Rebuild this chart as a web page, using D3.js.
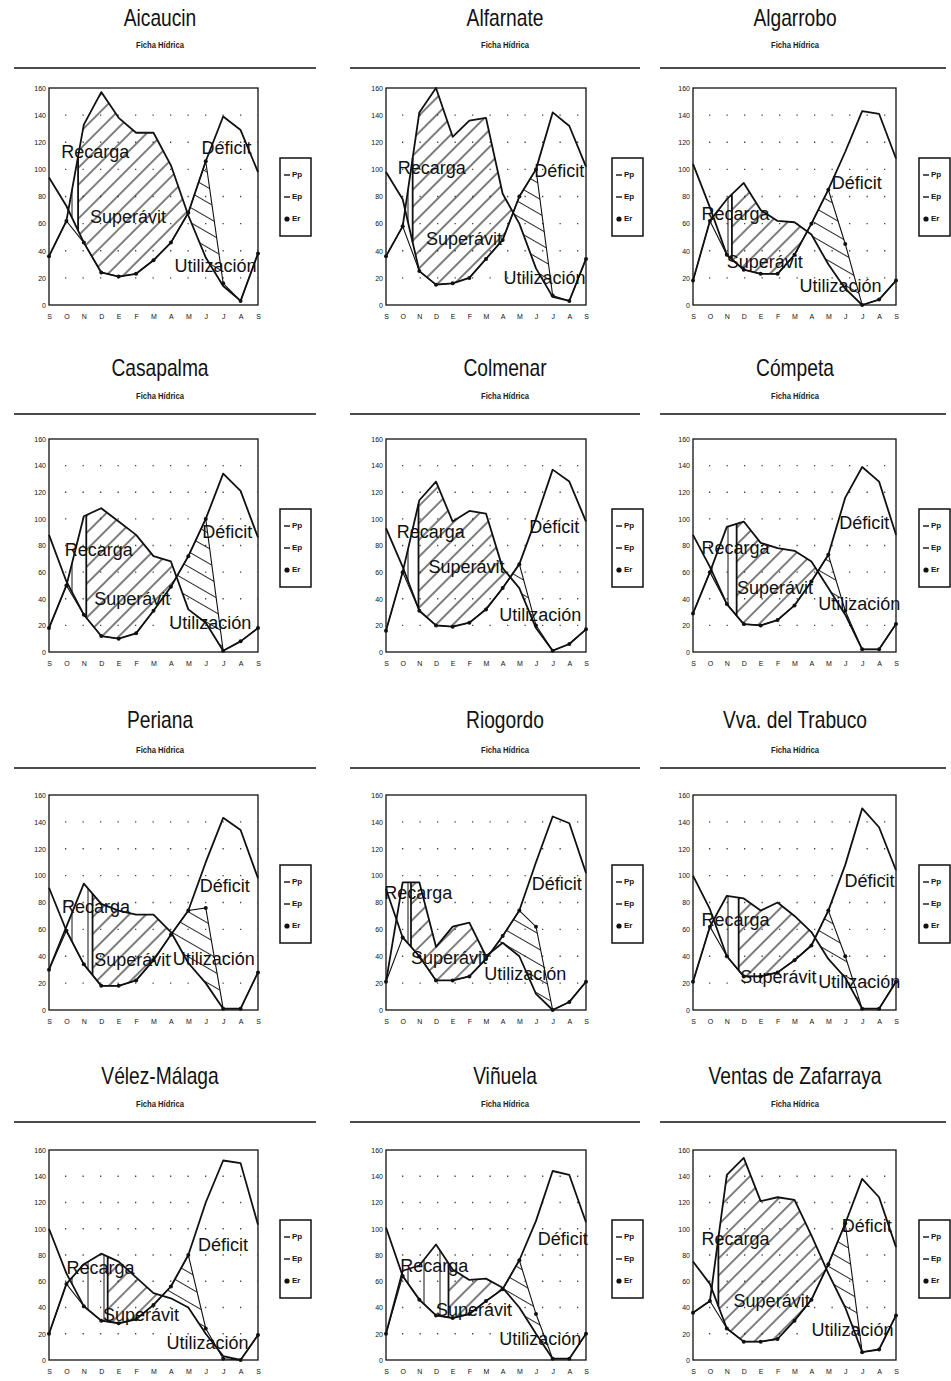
<!DOCTYPE html>
<html>
<head>
<meta charset="utf-8">
<script src="https://cdn.jsdelivr.net/npm/d3@7"></script>
<style>
  body { margin: 0; background: #fff; }
  svg { display: block; }
  .tick text { font-family: "Liberation Sans", Arial, sans-serif; font-size: 7px; fill: #111; }
</style>
</head>
<body>
<div id="chart"></div>
<script>
// month ticks (Sept -> Sept) and value ticks
var months = ["S","O","N","D","E","F","M","A","M","J","J","A","S"];
var yTicks = [0, 20, 40, 60, 80, 100, 120, 140, 160];

var stations = ["Aicaucin", "Alfarnate", "Algarrobo", "Casapalma", "Colmenar", "Cómpeta",
                "Periana", "Riogordo", "Vva. del Trabuco", "Vélez-Málaga", "Viñuela", "Ventas de Zafarraya"];

// precipitation
var ppValues = [
  [36, 62, 133, 157, 138, 127, 127, 103, 66, 35, 14, 3, 38],
  [36, 58, 142, 160, 124, 136, 138, 82, 60, 27, 6, 3, 34],
  [18, 62, 78, 90, 70, 62, 61, 52, 30, 12, 0, 4, 18],
  [18, 50, 102, 108, 98, 88, 72, 68, 32, 22, 1, 8, 18],
  [16, 60, 114, 128, 98, 106, 104, 63, 48, 18, 1, 6, 17],
  [29, 60, 94, 98, 82, 78, 76, 68, 48, 28, 2, 2, 21],
  [30, 62, 94, 79, 74, 71, 71, 58, 35, 20, 1, 1, 28],
  [21, 95, 95, 47, 62, 65, 40, 50, 40, 12, 0, 6, 21],
  [21, 62, 85, 83, 74, 80, 70, 58, 38, 24, 1, 1, 21],
  [20, 58, 73, 81, 75, 63, 51, 47, 40, 20, 3, 0, 19],
  [20, 68, 72, 88, 69, 61, 62, 55, 40, 20, 1, 1, 20],
  [36, 45, 141, 154, 121, 124, 122, 95, 66, 40, 6, 8, 34]
];

// potential evapotranspiration
var etpValues = [
  [94, 73, 46, 24, 21, 23, 33, 46, 68, 106, 139, 129, 98],
  [98, 78, 25, 15, 16, 20, 34, 48, 80, 100, 142, 132, 102],
  [104, 72, 37, 26, 23, 23, 37, 60, 85, 113, 143, 141, 108],
  [88, 53, 28, 12, 10, 14, 31, 49, 72, 100, 134, 121, 86],
  [93, 64, 31, 20, 19, 22, 32, 48, 66, 100, 137, 128, 98],
  [88, 64, 36, 21, 20, 24, 35, 53, 73, 116, 139, 128, 88],
  [91, 59, 34, 18, 18, 22, 37, 56, 74, 110, 143, 134, 98],
  [90, 54, 40, 22, 22, 25, 38, 55, 74, 110, 144, 139, 102],
  [100, 75, 40, 25, 25, 28, 37, 48, 74, 108, 150, 136, 104],
  [100, 66, 41, 30, 28, 31, 42, 56, 80, 120, 152, 150, 103],
  [101, 64, 46, 34, 32, 35, 45, 54, 76, 106, 144, 141, 105],
  [75, 58, 24, 14, 14, 16, 30, 46, 73, 104, 138, 124, 86]
];

// real evapotranspiration
var etrValues = [
  [36, 62, 46, 24, 21, 23, 33, 46, 68, 106, 16, 3, 38],
  [36, 58, 25, 15, 16, 20, 34, 48, 80, 100, 7, 3, 34],
  [18, 62, 37, 26, 23, 23, 37, 60, 85, 45, 0, 4, 18],
  [18, 50, 28, 12, 10, 14, 31, 49, 72, 100, 1, 8, 18],
  [16, 60, 31, 20, 19, 22, 32, 48, 66, 20, 1, 6, 17],
  [29, 60, 36, 21, 20, 24, 35, 53, 73, 31, 2, 2, 21],
  [30, 59, 34, 18, 18, 22, 37, 56, 74, 76, 1, 1, 28],
  [21, 54, 40, 22, 22, 25, 38, 55, 74, 62, 0, 6, 21],
  [21, 62, 40, 25, 25, 28, 37, 48, 74, 40, 1, 1, 21],
  [20, 58, 41, 30, 28, 31, 42, 56, 80, 24, 1, 0, 19],
  [20, 64, 46, 34, 32, 35, 45, 54, 76, 35, 1, 1, 20],
  [36, 45, 24, 14, 14, 16, 30, 46, 73, 104, 6, 8, 34]
];

// month (fractional) where soil recharge is complete
var recargaEnd = [1.67, 1.6, 2.3, 2.14, 1.95, 2.58, 2.5, 1.5, 2.7, 3.37, 3.75, 1.5];

var legendNames = ["Pp", "Ep", "Er"];
var zoneNames = ["Recarga", "Superávit", "Utilización", "Déficit"];

// ---- layout (not data) ----
// where each zone name sits, as [month, value] in chart units
var noteAnchors = [
  [[0.7, 112], [2.35, 64], [7.2, 28], [8.75, 115]],
  [[0.7, 100], [2.4, 48], [7.05, 19], [8.9, 98]],
  [[0.5, 66], [2.0, 31], [6.3, 13], [8.2, 89]],
  [[0.9, 76], [2.6, 39], [6.9, 21], [8.8, 89]],
  [[0.65, 89], [2.55, 63], [6.8, 27], [8.6, 93]],
  [[0.5, 77], [2.6, 47], [7.4, 35], [8.65, 96]],
  [[0.75, 76], [2.6, 36], [7.1, 37], [8.65, 91]],
  [[-0.1, 86], [1.5, 38], [5.9, 26], [8.75, 93]],
  [[0.5, 66], [2.8, 24], [7.4, 20], [8.95, 95]],
  [[1.0, 69], [3.1, 33], [6.75, 12], [8.55, 87]],
  [[0.85, 71], [3.0, 37], [6.8, 15], [9.1, 91]],
  [[0.5, 91], [2.4, 44], [7.0, 22], [8.8, 101]]
];

var cols = [
  {pl: 49, pr: 258, r0: 14, r1: 316, cx: 160, lx: 280},
  {pl: 386, pr: 586, r0: 350, r1: 640, cx: 505, lx: 612},
  {pl: 693, pr: 896, r0: 660, r1: 946, cx: 795, lx: 919}
];
var rows = [
  {t: 20, s: 46, r: 68, pt: 88, pb: 305},
  {t: 370, s: 397, r: 414, pt: 439, pb: 652},
  {t: 722, s: 751, r: 768, pt: 795, pb: 1010},
  {t: 1078, s: 1105, r: 1122, pt: 1150, pb: 1360}
];

var W = 951, H = 1381;
var svg = d3.select("#chart").append("svg").attr("width", W).attr("height", H);
svg.append("rect").attr("width", W).attr("height", H).attr("fill", "#fff");

var defs = svg.append("defs");
function hatch(id, size, angle, width) {
  var p = defs.append("pattern")
      .attr("id", id)
      .attr("patternUnits", "userSpaceOnUse")
      .attr("width", size).attr("height", size)
      .attr("patternTransform", "rotate(" + angle + ")");
  p.append("line")
      .attr("x1", size / 2).attr("x2", size / 2)
      .attr("y1", 0).attr("y2", size)
      .attr("stroke", "#111").attr("stroke-width", width);
}
hatch("hRecarga", 16, 0, 1);
hatch("hSuperavit", 12, 45, 1.1);
hatch("hUtil", 13, -60, 0.9);

function interp(arr, m) {
  var i = Math.max(0, Math.min(Math.floor(m), 11));
  var t = m - i;
  return arr[i] * (1 - t) + arr[i + 1] * t;
}

// first month where a goes above b, then where it drops back below
function crossings(a, b) {
  var c1 = null, c2 = null;
  for (var i = 0; i < 12; i++) {
    var d0 = a[i] - b[i], d1 = a[i + 1] - b[i + 1];
    var m = i + d0 / (d0 - d1);
    if (c1 === null && d0 < 0 && d1 >= 0) c1 = m;
    else if (c1 !== null && c2 === null && d0 > 0 && d1 <= 0) c2 = m;
  }
  return [c1, c2];
}

function bandPath(top, bot, m0, m1, x, y) {
  var pts = [m0];
  for (var k = Math.ceil(m0); k < m1; k++) if (k > m0) pts.push(k);
  pts.push(m1);
  var all = [];
  for (var j = 0; j < pts.length - 1; j++) {
    var p = pts[j], q = pts[j + 1];
    all.push(p);
    var dp = interp(top, p) - interp(bot, p), dq = interp(top, q) - interp(bot, q);
    if (dp * dq < 0) all.push(p + (q - p) * dp / (dp - dq));
  }
  all.push(m1);
  var upper = all.map(function(m) { return [x(m), y(Math.max(interp(top, m), interp(bot, m)))]; });
  var lower = all.slice().reverse().map(function(m) { return [x(m), y(interp(bot, m))]; });
  return "M" + upper.concat(lower).map(function(d) { return d[0].toFixed(2) + "," + d[1].toFixed(2); }).join("L") + "Z";
}

stations.forEach(function(name, s) {
  var col = cols[s % 3], row = rows[Math.floor(s / 3)];
  var pp = ppValues[s], etp = etpValues[s], etr = etrValues[s];

  var x = d3.scaleLinear().domain([0, 12]).range([col.pl, col.pr]);
  var y = d3.scaleLinear().domain([0, 160]).range([row.pb, row.pt]);
  var g = svg.append("g");

  // heading (squeezed to look like the condensed face of the print)
  g.append("text")
      .attr("transform", "translate(" + col.cx + "," + row.t + ") scale(0.8,1)")
      .attr("text-anchor", "middle").attr("dominant-baseline", "middle")
      .attr("font-family", "'Liberation Sans', Arial, sans-serif")
      .attr("font-size", 24).attr("fill", "#111")
      .text(name);
  g.append("text")
      .attr("transform", "translate(" + col.cx + "," + row.s + ") scale(0.85,1)")
      .attr("text-anchor", "middle").attr("dominant-baseline", "middle")
      .attr("font-family", "'Liberation Sans', Arial, sans-serif")
      .attr("font-size", 9).attr("font-weight", "bold").attr("fill", "#222")
      .text("Ficha Hídrica");
  g.append("line")
      .attr("x1", col.r0).attr("x2", col.r1)
      .attr("y1", row.r).attr("y2", row.r)
      .attr("stroke", "#111").attr("stroke-width", 1.5);

  // dotted grid
  g.selectAll(".grid").data(yTicks.slice(1, -1)).enter().append("line")
      .attr("x1", col.pl).attr("x2", col.pr)
      .attr("y1", function(d) { return y(d); }).attr("y2", function(d) { return y(d); })
      .attr("stroke", "#444").attr("stroke-width", 1.3)
      .attr("stroke-dasharray", "1.3,16.2")
      .attr("stroke-dashoffset", -16);

  // zones
  var c = crossings(pp, etp);
  var rEnd = recargaEnd[s];
  g.append("path").attr("d", bandPath(pp, etp, c[0], rEnd, x, y))
      .attr("fill", "url(#hRecarga)").attr("stroke", "none");
  g.append("path").attr("d", bandPath(pp, etp, rEnd, c[1], x, y))
      .attr("fill", "url(#hSuperavit)").attr("stroke", "none");
  g.append("path").attr("d", bandPath(etr, pp, c[1], 12, x, y))
      .attr("fill", "url(#hUtil)").attr("stroke", "none");

  // end of recharge
  g.append("line")
      .attr("x1", x(rEnd)).attr("x2", x(rEnd))
      .attr("y1", y(interp(etp, rEnd))).attr("y2", y(interp(pp, rEnd)))
      .attr("stroke", "#111").attr("stroke-width", 1.8);

  var line = d3.line()
      .x(function(d, i) { return x(i); })
      .y(function(d) { return y(d); });

  g.append("path").datum(etp).attr("d", line)
      .attr("fill", "none").attr("stroke", "#111").attr("stroke-width", 1.8).attr("stroke-linejoin", "round");
  g.append("path").datum(pp).attr("d", line)
      .attr("fill", "none").attr("stroke", "#111").attr("stroke-width", 1.8).attr("stroke-linejoin", "round");
  g.append("path").datum(etr).attr("d", line)
      .attr("fill", "none").attr("stroke", "#111").attr("stroke-width", 1.1);
  g.selectAll(".dot").data(etr).enter().append("circle")
      .attr("cx", function(d, i) { return x(i); })
      .attr("cy", function(d) { return y(d); })
      .attr("r", 2).attr("fill", "#111");

  // frame and axes
  g.append("rect")
      .attr("x", col.pl).attr("y", row.pt)
      .attr("width", col.pr - col.pl).attr("height", row.pb - row.pt)
      .attr("fill", "none").attr("stroke", "#111").attr("stroke-width", 1.3);

  var yAxis = d3.axisLeft(y).tickValues(yTicks).tickSize(0).tickPadding(3);
  g.append("g").attr("transform", "translate(" + col.pl + ",0)").call(yAxis)
      .call(function(a) { a.select(".domain").remove(); });

  var xAxis = d3.axisBottom(x).tickValues(d3.range(13))
      .tickFormat(function(d) { return months[d]; }).tickSize(0).tickPadding(9);
  g.append("g").attr("transform", "translate(0," + row.pb + ")").call(xAxis)
      .call(function(a) { a.select(".domain").remove(); });

  // zone names
  zoneNames.forEach(function(z, k) {
    var an = noteAnchors[s][k];
    g.append("text")
        .attr("x", x(an[0])).attr("y", y(an[1]))
        .attr("dominant-baseline", "middle")
        .attr("font-family", "'Liberation Sans', Arial, sans-serif")
        .attr("font-size", 18).attr("fill", "#111")
        .text(z);
  });

  // legend
  var ly = row.pt + 70;
  var lg = g.append("g").attr("transform", "translate(" + col.lx + "," + ly + ")");
  lg.append("rect").attr("width", 31).attr("height", 78)
      .attr("fill", "#fff").attr("stroke", "#111").attr("stroke-width", 1.5);
  legendNames.forEach(function(n, k) {
    var yy = 17 + k * 22;
    if (k < 2) {
      lg.append("line").attr("x1", 4).attr("x2", 10).attr("y1", yy).attr("y2", yy)
          .attr("stroke", "#111").attr("stroke-width", 1.4);
    } else {
      lg.append("circle").attr("cx", 7).attr("cy", yy).attr("r", 2.6).attr("fill", "#111");
    }
    lg.append("text").attr("x", 12).attr("y", yy)
        .attr("dominant-baseline", "middle")
        .attr("font-family", "'Liberation Sans', Arial, sans-serif")
        .attr("font-size", 8).attr("font-weight", "bold").attr("fill", "#111")
        .text(n);
  });
});
</script>
</body>
</html>
